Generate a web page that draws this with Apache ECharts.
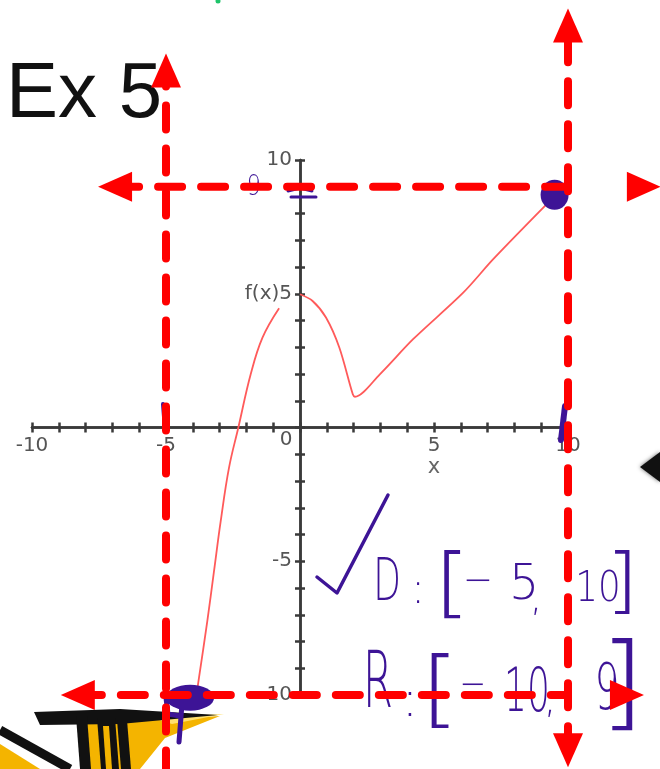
<!DOCTYPE html>
<html>
<head>
<meta charset="utf-8">
<style>
  html, body { margin: 0; padding: 0; background: #ffffff; }
  #chart { width: 660px; height: 769px; }
</style>
<script src="https://cdn.jsdelivr.net/npm/echarts@6/dist/echarts.min.js"></script>
</head>
<body>
<div id="chart"></div>
<script>
// Piecewise function f(x), sampled along each branch
const leftBranch = [
  [-3.84, -9.85], [-3.77, -9.36], [-3.46, -7.25], [-3.21, -5.38], [-2.96, -3.51],
  [-2.65, -1.51], [-2.30, 0], [-1.84, 1.99], [-1.40, 3.36], [-0.78, 4.46]
];
const rightBranch = [
  [0, 4.98], [0.47, 4.73], [0.97, 4.11], [1.47, 2.98], [1.97, 1.24], [2.05, 1.15],
  [2.97, 1.98], [4.22, 3.30], [6.09, 5.04], [7.21, 6.29], [9.21, 8.35], [9.5, 8.62]
];

// Domain and range bounds
const domainBounds = [-5, 10];
const rangeBounds = [-10, 9];

// Endpoints highlighted with ink
const endpointMarks = [[-4.1, -10.1], [9.5, 8.7]];

// Axis tick labels
const xLabelValues = [-10, -5, 0, 5, 10];
const xLabelTexts = ['-10', '-5', '0', '5', '10'];
const xAxisName = 'x';
const yLabelValues = [-10, -5, 5, 10];
const yLabelTexts = ['-10', '-5', 'f(x)5', '10'];

const AXIS_COLOR = '#3a3a3a';
const GUIDE_RED = '#ff0000';
const INK = '#3d1496';

// plot area
const W = 660, H = 769;
const GRID = { left: 32, right: 92, top: 160, bottom: 74 };
const gridW = W - GRID.left - GRID.right;
const gridH = H - GRID.top - GRID.bottom;
// both axes run -10..10, so the zero lines sit at the centre of the plot area
const xShift = -gridH / 2;
const yShift = -gridW / 2;

const chart = echarts.init(document.getElementById('chart'), null, { renderer: 'canvas' });

function xLabel(v) {
  const r = Math.round(v * 1000) / 1000;
  const i = xLabelValues.indexOf(r);
  if (i < 0) return '';
  if (r === 0) return '{zero|0}';
  if (r === 5) return xLabelTexts[i] + '\n{name|' + xAxisName + '}';
  return xLabelTexts[i];
}
function yLabel(v) {
  const i = yLabelValues.indexOf(Math.round(v * 1000) / 1000);
  return i < 0 ? '' : yLabelTexts[i];
}

const labelFont = { fontFamily: 'DejaVu Sans', fontSize: 20, color: '#555' };

function makeAxis(dim, withLabels, pos, offset) {
  const ax = {
    type: 'value', min: -10, max: 10, interval: 1, position: pos, offset: offset,
    axisLine: { show: true, onZero: false, lineStyle: { color: AXIS_COLOR, width: 2.5 } },
    axisTick: { show: true, length: 5, lineStyle: { color: AXIS_COLOR, width: 2.5 } },
    splitLine: { show: false },
    axisLabel: { show: false }
  };
  if (withLabels) {
    if (dim === 'x') {
      ax.axisLabel = Object.assign({
        show: true, margin: 8, formatter: xLabel,
        showMinLabel: true, showMaxLabel: true,
        rich: {
          zero: { fontFamily: 'DejaVu Sans', fontSize: 20, color: '#555', padding: [0, 28, 6, 0], lineHeight: 14 },
          name: { fontFamily: 'DejaVu Sans', fontSize: 21, color: '#666', lineHeight: 24 }
        }
      }, labelFont);
    } else {
      ax.axisLabel = Object.assign({
        show: true, margin: 8, formatter: yLabel,
        showMinLabel: true, showMaxLabel: true
      }, labelFont);
    }
  }
  return ax;
}

function guide(points, arrowIdx) {
  // points: list of [x, y]; arrowIdx: index -> rotation of the arrow head
  return {
    type: 'line', clip: false, silent: true, z: 10, animation: false,
    showSymbol: true,
    data: points.map((p, i) => (arrowIdx[i] !== undefined)
      ? { value: p, symbol: 'triangle', symbolSize: [30, 34], symbolRotate: arrowIdx[i], itemStyle: { color: GUIDE_RED, opacity: 1 } }
      : { value: p, symbol: 'none' }),
    lineStyle: { color: GUIDE_RED, width: 8, type: [24, 19], cap: 'round' },
    itemStyle: { color: GUIDE_RED, opacity: 1 }
  };
}

// Ink glyphs for the domain / range notes
function ink(text, x, y, size, sx) {
  return {
    type: 'text', x: x, y: y, z: 6, scaleX: sx || 1, silent: true,
    style: {
      text: text, fill: INK, fontFamily: 'DejaVu Sans', fontWeight: 200, fontSize: size,
      align: 'center', verticalAlign: 'middle', textAlign: 'center', textVerticalAlign: 'middle'
    }
  };
}
function stroke(points, w) {
  return { type: 'polyline', z: 6, silent: true, shape: { points: points },
    style: { stroke: INK, lineWidth: w, lineCap: 'round', lineJoin: 'round', fill: null } };
}

const graphics = [
  // title
  { type: 'text', x: 6, y: 95, z: 4, silent: true,
    style: { text: 'Ex 5', fill: '#111', fontFamily: 'Liberation Sans', fontSize: 78,
      align: 'left', verticalAlign: 'middle', textAlign: 'left', textVerticalAlign: 'middle' } },
  { type: 'circle', z: 4, silent: true, shape: { cx: 218, cy: 1, r: 2.5 }, style: { fill: '#1fc46a' } },
  { type: 'polygon', z: 4, silent: true, shape: { points: [[640, 467], [660, 452], [660, 482]] },
    style: { fill: '#111', shadowBlur: 4, shadowColor: 'rgba(0,0,0,0.6)' } },

  // corner sticker
  { type: 'polygon', z: 1, silent: true, shape: { points: [[120, 722], [220, 716], [165, 738], [140, 769], [86, 769], [86, 722]] }, style: { fill: '#f4b400' } },
  { type: 'polygon', z: 1, silent: true, shape: { points: [[150, 717], [224, 714], [172, 724]] }, style: { fill: '#ffe070' } },
  { type: 'polygon', z: 1, silent: true, shape: { points: [[34, 712], [120, 709], [218, 715], [120, 724], [40, 725]] }, style: { fill: '#111' } },
  { type: 'polygon', z: 1, silent: true, shape: { points: [[76, 716], [87, 716], [91, 769], [80, 769]] }, style: { fill: '#111' } },
  { type: 'polygon', z: 1, silent: true, shape: { points: [[97, 718], [115, 718], [119, 769], [101, 769]] }, style: { fill: '#111' } },
  { type: 'polygon', z: 1, silent: true, shape: { points: [[103, 726], [109, 726], [112, 769], [106, 769]] }, style: { fill: '#f4b400' } },
  { type: 'polygon', z: 1, silent: true, shape: { points: [[117, 720], [127, 720], [131, 769], [121, 769]] }, style: { fill: '#111' } },
  { type: 'polygon', z: 1, silent: true, shape: { points: [[0, 744], [40, 769], [0, 769]] }, style: { fill: '#f4b400' } },
  { type: 'line', z: 1, silent: true, shape: { x1: 0, y1: 730, x2: 70, y2: 769 }, style: { stroke: '#111', lineWidth: 9 } },

  // check mark
  stroke([[317, 577], [337, 593], [388, 495]], 3.5),

  // D: [-5, 10]
  ink('D', 387, 585, 58, 0.62),
  ink(':', 418, 592, 42, 1),
  ink('[', 452, 588, 76, 1.25),
  ink('\u2212', 478, 583, 40, 0.9),
  ink('5', 524, 586, 50, 0.95),
  ink(',', 536, 600, 40, 1),
  ink('10', 598, 590, 42, 0.85),
  ink(']', 622, 585, 72, 1.2),

  // R: [-10, 9]
  ink('R', 378, 687, 78, 0.56),
  ink(':', 410, 703, 50, 1),
  ink('[', 440, 695, 84, 1.2),
  ink('\u2212', 473, 687, 40, 0.8),
  ink('10', 527, 695, 60, 0.6),
  ink(',', 550, 702, 40, 1),
  ink('9', 607, 692, 64, 0.62),
  ink(']', 622, 690, 104, 1.15),

  // ink near the axes
  ink('9', 254, 188, 28, 0.8),
  stroke([[288, 191], [300, 188], [312, 191]], 3),
  stroke([[291, 197], [316, 197]], 3),
  stroke([[163, 404], [165, 430]], 4),
  stroke([[565, 406], [561, 440]], 6),
  stroke([[182, 704], [179, 742]], 5),
  stroke([[166, 698], [168, 714], [180, 716]], 5)
];

const option = {
  backgroundColor: '#ffffff',
  animation: false,
  grid: { left: GRID.left, right: GRID.right, top: GRID.top, bottom: GRID.bottom, containLabel: false, outerBoundsMode: 'none' },
  xAxis: [makeAxis('x', true, 'bottom', xShift), makeAxis('x', false, 'top', xShift)],
  yAxis: [makeAxis('y', true, 'left', yShift), makeAxis('y', false, 'right', yShift)],
  series: [
    { type: 'line', data: leftBranch, smooth: 0.4, symbol: 'none', silent: true, z: 3,
      lineStyle: { color: '#ff5a5a', width: 1.8 } },
    { type: 'line', data: rightBranch, smooth: 0.3, symbol: 'none', silent: true, z: 3,
      lineStyle: { color: '#ff5a5a', width: 1.8 } },
    { type: 'scatter', data: endpointMarks, clip: false, silent: true, z: 6,
      symbol: 'circle',
      symbolSize: (v, p) => p.dataIndex === 0 ? [48, 26] : [28, 30],
      itemStyle: { color: INK, opacity: 1 } },
    // x = a, x = b
    guide([[domainBounds[0], -12.97], [domainBounds[0], 13.35]], { 1: 0 }),
    guide([[domainBounds[1], -12.07], [domainBounds[1], 15.03]], { 0: 180, 1: 0 }),
    // y = c, y = d
    guide([[-6.9, rangeBounds[1]], [12.83, rangeBounds[1]]], { 0: 90, 1: -90 }),
    guide([[-8.29, rangeBounds[0]], [12.2, rangeBounds[0]]], { 0: 90, 1: -90 })
  ],
  graphic: { elements: graphics }
};

chart.setOption(option);
</script>
</body>
</html>
